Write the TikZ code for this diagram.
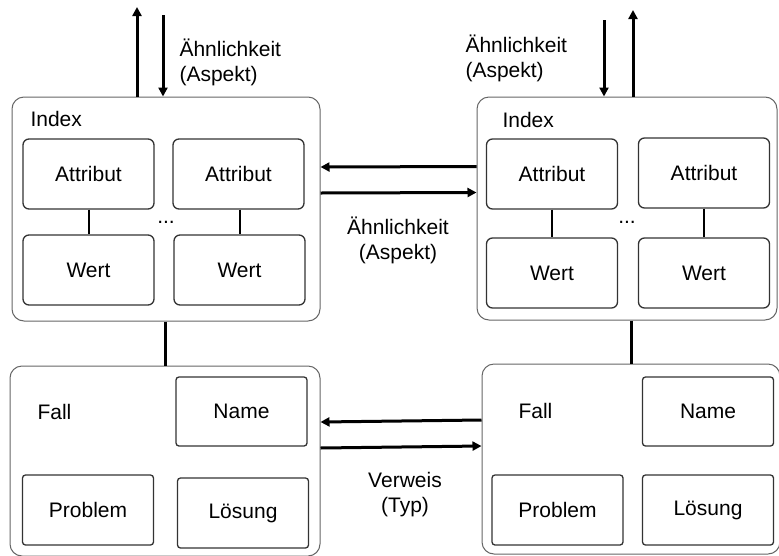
\documentclass[tikz,border=0pt]{standalone}
\usepackage{fontspec}
\setmainfont{Liberation Sans}
\usetikzlibrary{arrows.meta,positioning}
\tikzset{
  outer/.style={draw=black!60,rounded corners=12pt,line width=1pt,inner sep=0pt},
  part/.style={draw=black!80,rounded corners=6pt,line width=1.3pt,
    minimum width=131pt,minimum height=70pt,inner sep=0pt},
  flat/.style={part,rounded corners=3pt},
  link/.style={line width=2pt},
  bar/.style={line width=3pt},
  flow/.style={line width=3pt,-{Triangle[length=9pt,width=9pt]}},
}
\begin{document}
\begin{tikzpicture}[x=1pt,y=-1pt,font=\fontsize{21}{25}\selectfont]
  \useasboundingbox (0,0) rectangle (779,555);
  % index boxes
  \node[outer,minimum width=308pt,minimum height=224pt] (idxL) at (166,209) {};
  \node[outer,minimum width=300pt,minimum height=223pt] (idxR) at (627,208.5) {};
  \node[anchor=west] (idxLtxt) at (27,119) {Index};
  \node[anchor=west] (idxRtxt) at (499,120) {Index};
  \node[part] (attrA) at (88.5,174) {Attribut};
  \node[part] (attrB) at (238.5,174) {Attribut};
  \node[part] (wertA) at (88.5,270) {Wert};
  \node[part] (wertB) at (239.5,270) {Wert};
  \node[part] (attrC) at (552,174) {Attribut};
  \node[part] (attrD) at (704,173) {Attribut};
  \node[part] (wertC) at (552,273) {Wert};
  \node[part] (wertD) at (704,273) {Wert};
  \node (dotsL) at (166,222) {...};
  \node (dotsR) at (627,222) {...};
  \draw[link] (attrA) -- (wertA);
  \draw[link] (attrB.south -| wertB) -- (wertB);
  \draw[link] (attrC) -- (wertC);
  \draw[link] (attrD) -- (wertD);
  % case boxes
  \node[outer,minimum width=310pt,minimum height=190pt] (fallL) at (165,461) {};
  \node[outer,minimum width=298pt,minimum height=190pt] (fallR) at (631,459) {};
  \node[anchor=west] (fallLtxt) at (34,412) {Fall};
  \node[anchor=west] (fallRtxt) at (515,411) {Fall};
  \node[flat,minimum height=69pt] (nameA) at (241.5,411.5) {Name};
  \node[flat] (probA) at (88,510) {Problem};
  \node[flat] (loesA) at (243,513) {Lösung};
  \node[flat,minimum height=69pt] (nameB) at (708,411.5) {Name};
  \node[flat] (probB) at (557.5,510) {Problem};
  \node[flat] (loesB) at (708,510) {Lösung};
  \draw[bar] (fallL.north |- idxL.south) -- (fallL.north);
  \draw[bar] (fallR.north |- idxR.south) -- (fallR.north);
  % similarity between indexes
  \draw[flow] ([yshift=42pt]idxR.west) -- ([yshift=42pt]idxL.east);
  \draw[flow] ([yshift=16pt]idxL.east) -- ([yshift=16pt]idxR.west);
  \node[align=center] (simM) at (398,240) {Ähnlichkeit\\(Aspekt)};
  % reference between cases
  \draw[flow] ([yshift=39pt]fallR.west) -- ([yshift=39pt]fallL.east);
  \draw[flow] ([yshift=13pt]fallL.east) -- ([yshift=13pt]fallR.west);
  \node[align=center] (refM) at (405,495) {Verweis\\(Typ)};
  % queries from above
  \coordinate (outL) at (137,7);
  \coordinate (inL) at (163,15);
  \coordinate (outR) at (633,10);
  \coordinate (inR) at (604,20);
  \draw[flow] (outL |- idxL.north) -- (outL);
  \draw[flow] (inL) -- (inL |- idxL.north);
  \draw[flow] (outR |- idxR.north) -- (outR);
  \draw[flow] (inR) -- (inR |- idxR.north);
  \node[align=left,anchor=west] (simL) at (176,62) {Ähnlichkeit\\(Aspekt)};
  \node[align=left,anchor=west] (simR) at (462,58) {Ähnlichkeit\\(Aspekt)};
\end{tikzpicture}
\end{document}
